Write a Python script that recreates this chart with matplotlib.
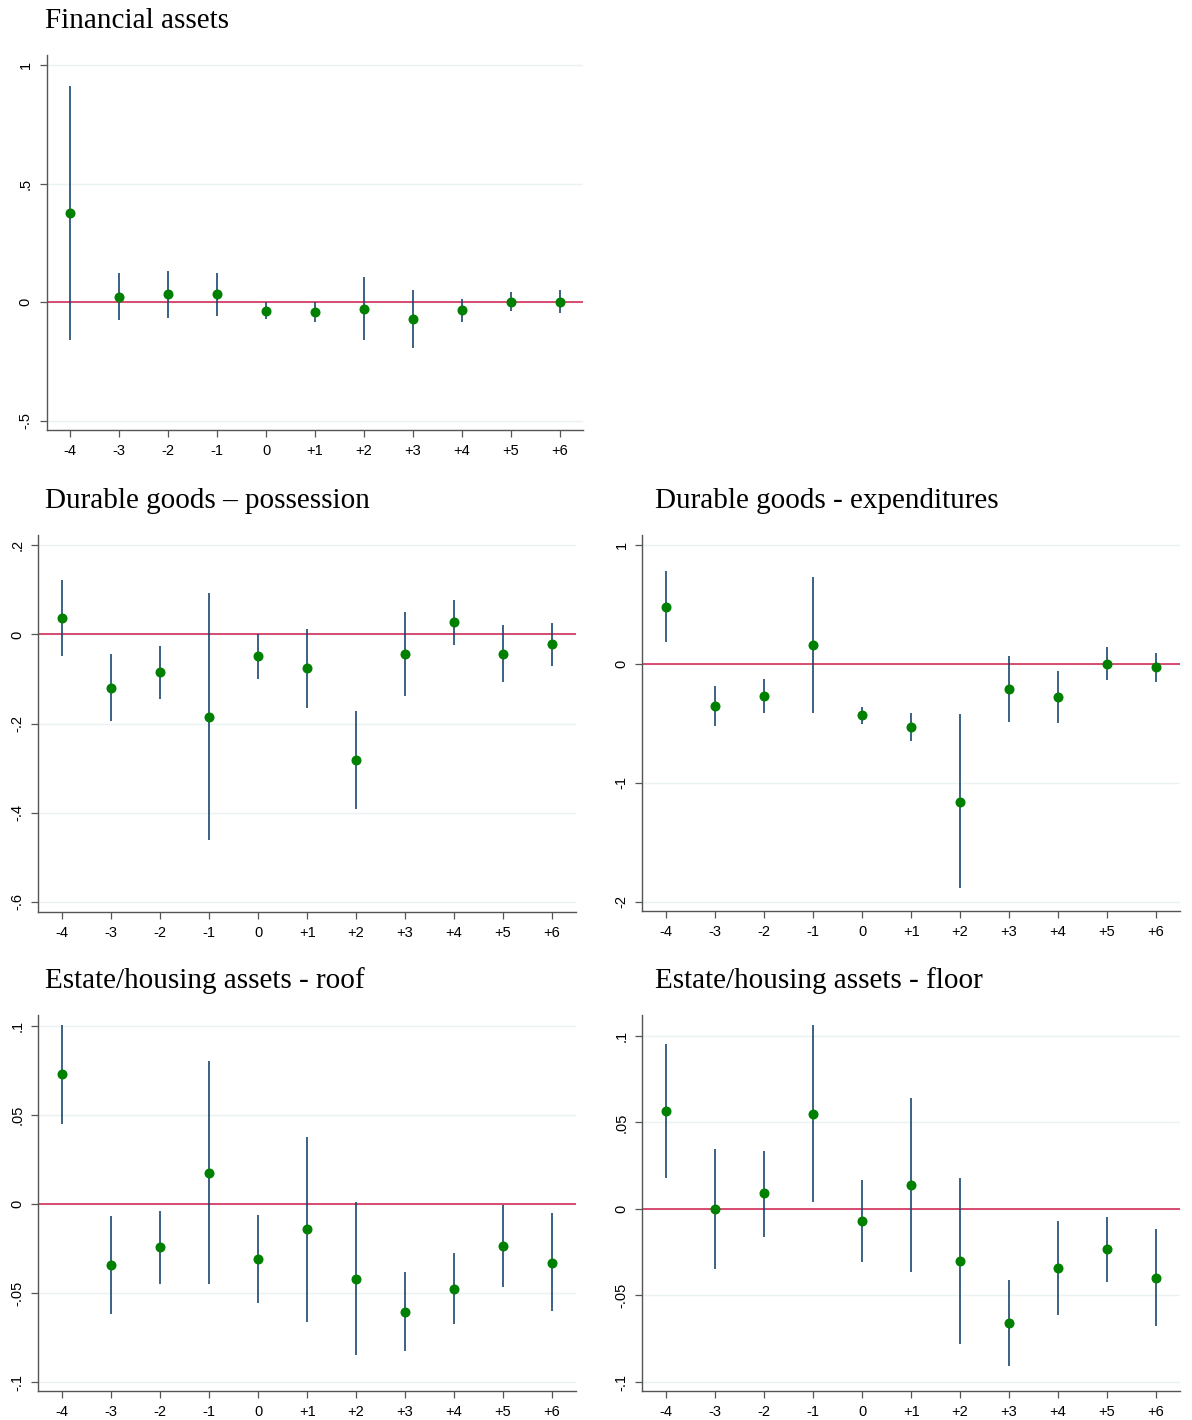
import matplotlib.pyplot as plt

plt.rcParams['font.family'] = ['Liberation Sans', 'DejaVu Sans']

# event time (periods around the shock)
periods = [-4, -3, -2, -1, 0, 1, 2, 3, 4, 5, 6]
period_labels = ['-4', '-3', '-2', '-1', '0', '+1', '+2', '+3', '+4', '+5', '+6']

# Financial assets
fin_coef = [0.375, 0.024, 0.034, 0.034, -0.035, -0.042, -0.028, -0.070, -0.032, 0.003, 0.003]
fin_low = [-0.159, -0.075, -0.068, -0.056, -0.072, -0.082, -0.159, -0.194, -0.082, -0.035, -0.046]
fin_high = [0.913, 0.122, 0.133, 0.122, 0.0, 0.0, 0.105, 0.052, 0.014, 0.042, 0.052]
fin_ticks = [-0.5, 0, 0.5, 1]
fin_ticklabels = ['-.5', '0', '.5', '1']

# Durable goods - possession
pos_coef = [0.037, -0.120, -0.085, -0.185, -0.049, -0.076, -0.282, -0.043, 0.027, -0.043, -0.022]
pos_low = [-0.048, -0.194, -0.144, -0.461, -0.100, -0.165, -0.392, -0.138, -0.024, -0.106, -0.071]
pos_high = [0.122, -0.044, -0.026, 0.092, 0.002, 0.012, -0.171, 0.051, 0.078, 0.021, 0.025]
pos_ticks = [-0.6, -0.4, -0.2, 0, 0.2]
pos_ticklabels = ['-.6', '-.4', '-.2', '0', '.2']

# Durable goods - expenditures
exp_coef = [0.482, -0.350, -0.269, 0.160, -0.429, -0.529, -1.157, -0.210, -0.275, 0.0, -0.025]
exp_low = [0.182, -0.521, -0.415, -0.409, -0.504, -0.644, -1.885, -0.487, -0.493, -0.137, -0.149]
exp_high = [0.782, -0.182, -0.129, 0.728, -0.359, -0.409, -0.423, 0.070, -0.059, 0.140, 0.092]
exp_ticks = [-2, -1, 0, 1]
exp_ticklabels = ['-2', '-1', '0', '1']

# Estate/housing assets - roof
roof_coef = [0.0730, -0.0341, -0.0240, 0.0178, -0.0306, -0.0140, -0.0418, -0.0603, -0.0474, -0.0236, -0.0328]
roof_low = [0.0451, -0.0618, -0.0446, -0.0449, -0.0553, -0.0659, -0.0848, -0.0824, -0.0674, -0.0463, -0.0599]
roof_high = [0.1007, -0.0064, -0.0036, 0.0803, -0.0060, 0.0380, 0.0015, -0.0380, -0.0272, -0.0004, -0.0051]

# Estate/housing assets - floor
floor_coef = [0.0566, -0.0002, 0.0091, 0.0551, -0.0069, 0.0139, -0.0301, -0.0659, -0.0343, -0.0231, -0.0397]
floor_low = [0.0177, -0.0349, -0.0160, 0.0042, -0.0306, -0.0362, -0.0780, -0.0908, -0.0614, -0.0420, -0.0678]
floor_high = [0.0952, 0.0345, 0.0337, 0.1064, 0.0168, 0.0640, 0.0177, -0.0410, -0.0068, -0.0044, -0.0117]
house_ticks = [-0.1, -0.05, 0, 0.05, 0.1]
house_ticklabels = ['-.1', '-.05', '0', '.05', '.1']

W, H = 1192, 1420
fig = plt.figure(figsize=(W / 100, H / 100), dpi=100)


def coef_panel(box, title, title_x, coef, low, high, ticks, ticklabels, ylim, xlim=(-4.49, 6.49)):
    # box is left, right, top, bottom in pixels
    left, right, top, bottom = box
    ax = fig.add_axes([left / W, 1 - bottom / H, (right - left) / W, (bottom - top) / H])

    ax.vlines(periods, low, high, color='#1a476f', linewidth=1.2, zorder=3)
    ax.plot(periods, coef, 'o', color='#008000', markersize=6.2, zorder=4)
    ax.axhline(0, color='#d01c4b', linewidth=1.1, zorder=2)

    ax.set_xlim(xlim)
    ax.set_ylim(ylim)
    ax.set_xticks(periods)
    ax.set_xticklabels(period_labels, fontsize=10.5)
    ax.set_yticks(ticks)
    ax.set_yticklabels(ticklabels, fontsize=10.5, rotation=90, va='center')
    ax.grid(axis='y', color='#eaf2f3', linewidth=1.0, zorder=0)

    for side in ['top', 'right']:
        ax.spines[side].set_visible(False)
    for side in ['left', 'bottom']:
        ax.spines[side].set_color('#555555')
        ax.spines[side].set_linewidth(1.0)
    ax.tick_params(colors='#555555', labelcolor='black', length=5, width=0.9, pad=5)

    fig.text(title_x / W, 1 - (top - 27) / H, title, fontsize=21,
             family=['Liberation Serif', 'DejaVu Serif'], va='baseline', ha='left')
    return ax


coef_panel((46.7, 583, 55, 430), 'Financial assets', 45,
           fin_coef, fin_low, fin_high, fin_ticks, fin_ticklabels, (-0.538, 1.042), xlim=(-4.48, 6.47))
coef_panel((38.3, 576, 535, 911.7), 'Durable goods \u2013 possession', 45,
           pos_coef, pos_low, pos_high, pos_ticks, pos_ticklabels, (-0.622, 0.223))
coef_panel((642.3, 1180, 535, 911), 'Durable goods - expenditures', 655,
           exp_coef, exp_low, exp_high, exp_ticks, exp_ticklabels, (-2.076, 1.084))
coef_panel((38.3, 576, 1015, 1391), 'Estate/housing assets - roof', 45,
           roof_coef, roof_low, roof_high, house_ticks, house_ticklabels, (-0.1049, 0.1063))
coef_panel((642.3, 1180, 1015, 1391), 'Estate/housing assets - floor', 655,
           floor_coef, floor_low, floor_high, house_ticks, house_ticklabels, (-0.1052, 0.1121))

fig.savefig('out.png', dpi=100)
